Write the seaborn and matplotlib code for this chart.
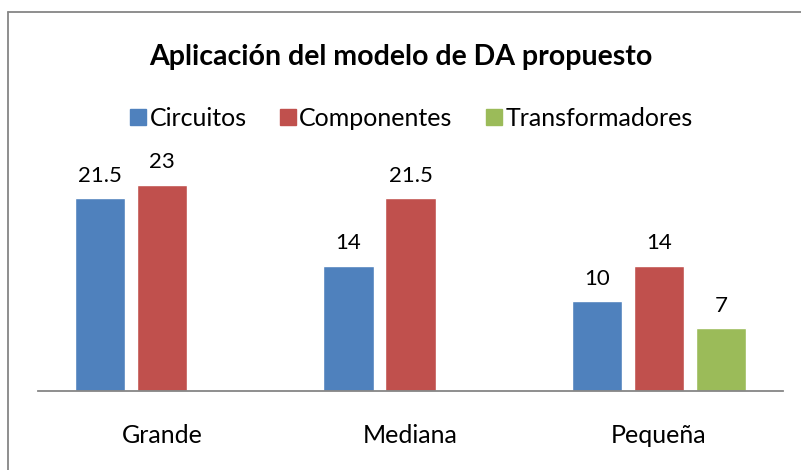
import pandas as pd
import matplotlib.pyplot as plt
import seaborn as sns
from matplotlib.lines import Line2D

# Data
categorias = ['Grande', 'Mediana', 'Pequeña']
series = ['Circuitos', 'Componentes', 'Transformadores']
circuitos = [21.5, 14, 10]
componentes = [23, 21.5, 14]
transformadores = [None, None, 7]
colores = ['#4F81BD', '#C0504D', '#9BBB59']

rows = []
for serie, vals in zip(series, [circuitos, componentes, transformadores]):
    for cat, v in zip(categorias, vals):
        if v is not None:
            rows.append({'Tamaño': cat, 'Tipo': serie, 'Valor': v})
df = pd.DataFrame(rows)

sns.set_style('white')
plt.rcParams['font.family'] = ['Lato', 'DejaVu Sans']

fig = plt.figure(figsize=(8.01, 4.70), dpi=100)
ax = fig.add_axes([38 / 801, 1 - 391 / 470, (783 - 38) / 801, (391 - 165) / 470])

sns.barplot(data=df, x='Tamaño', y='Valor', hue='Tipo', order=categorias,
            hue_order=series, palette=colores, width=0.75, gap=0.19,
            saturation=1, legend=False, ax=ax)

for cont in ax.containers:
    ax.bar_label(cont, labels=[f'{v:g}' for v in cont.datavalues],
                 padding=9, fontsize=16, color='black')

ax.set_ylim(0, 226 / 8.96)
ax.set_xlim(-0.5, 2.5)
ax.set_xlabel('')
ax.set_ylabel('')
ax.set_yticks([])
ax.tick_params(axis='x', length=0, pad=24, labelsize=18, labelcolor='black')
for s in ['top', 'right', 'left']:
    ax.spines[s].set_visible(False)
ax.spines['bottom'].set_color('#868686')
ax.spines['bottom'].set_linewidth(1.3)

fig.text(0.5, 1 - 57 / 470, 'Aplicación del modelo de DA propuesto',
         ha='center', va='center', fontsize=20.5, fontweight='bold', color='black')

handles = [Line2D([], [], marker='s', linestyle='', markersize=11,
                  markerfacecolor=c, markeredgecolor=c) for c in colores]
fig.legend(handles, series, loc='center', bbox_to_anchor=(411 / 801, 1 - 118 / 470),
           ncol=3, frameon=False, fontsize=18, handletextpad=0.1,
           columnspacing=1.3, handlelength=0.7, labelcolor='black')

# chart border (top and left visible)
fig.add_artist(Line2D([8 / 801, 8 / 801], [0, 1 - 12 / 470], color='#868686', lw=1.3))
fig.add_artist(Line2D([8 / 801, 1], [1 - 12 / 470, 1 - 12 / 470], color='#868686', lw=1.3))

fig.savefig('out.png', dpi=100)
